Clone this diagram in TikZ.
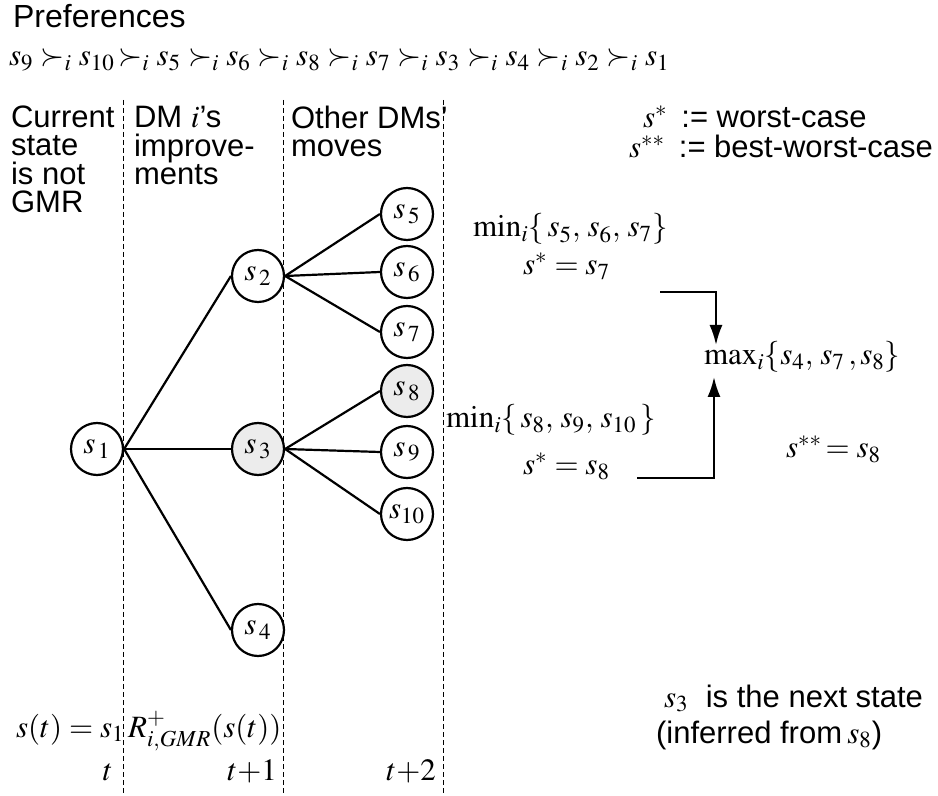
\documentclass[tikz,border=0pt]{standalone}
\usepackage{amsmath}
\usepackage{mathptmx}
\usepackage[no-math]{fontspec}
\setmainfont{Liberation Sans}
\usetikzlibrary{arrows.meta}
\tikzset{
  st/.style={circle, draw, minimum size=26pt, inner sep=0pt, font=\fontsize{15.5}{14.3}\selectfont},
  hit/.style={st, fill=gray!15},
  lbl/.style={anchor=base west, inner sep=0pt, align=left, font=\fontsize{15.5}{14.3}\selectfont},
  sep/.style={dash pattern=on 2.5pt off 1.5pt, line width=0.5pt},
  pick/.style={-{Latex[length=10pt,width=6.5pt]}}
}
\begin{document}
\begin{tikzpicture}[line width=1.1pt, scale=0.5, x=1pt, y=-1pt]
 \useasboundingbox (0,0) rectangle (938,796);

 % time steps
 \foreach \x in {123,283,443}
   \draw[sep] (\x,100) -- (\x,796);

 \node[lbl, font=\fontsize{16}{16}\selectfont] (pref) at (12,28) {Preferences};
 \node[lbl] (order) at (8,66) {$s_9 \succ_i s_{10}\!\succ_i s_5 \succ_i s_6 \succ_i s_8 \succ_i s_7 \succ_i s_3 \succ_i s_4 \succ_i s_2 \succ_i s_1$};

 % column heads (anchored at last line)
 \node[lbl] (now) at (10,213) {Current\\state\\is not\\GMR};
 \node[lbl] (dm) at (133,185) {DM $i$'s\\improve-\\ments};
 \node[lbl] (oth) at (290,157) {Other DMs'\\moves};

 % states
 \node[st] (s1) at (97,449) {$s_{\,1}$};
 \node[st] (s2) at (258,276) {$s_{\,2}$};
 \node[hit] (s3) at (258,449) {$s_{\,3}$};
 \node[st] (s4) at (258,630) {$s_{\,4}$};
 \node[st] (s5) at (407,214) {$s_{\,5}$};
 \node[st] (s6) at (407,272) {$s_{\,6}$};
 \node[st] (s7) at (407,332) {$s_{\,7}$};
 \node[hit] (s8) at (407,391) {$s_{\,8}$};
 \node[st] (s9) at (407,452) {$s_{\,9}$};
 \node[st] (s10) at (407,514) {$s_{10}$};

 \foreach \a/\b in {s1/s2,s1/s3,s1/s4,s2/s5,s2/s6,s2/s7,s3/s8,s3/s9,s3/s10}
   \draw (\a.east) -- (\b.west);

 % worst cases
 \node[lbl] (def1) at (642,128) {$s^*$\, := worst-case};
 \node[lbl] (def2) at (628,158) {$s^{**}$\, := best-worst-case};
 \node[lbl] (min1) at (472,237) {$\min_i\{\,s_5,\,s_6,\,s_7\}$};
 \node[lbl] (w7) at (522,275) {$s^* = s_7$};
 \node[lbl] (maxn) at (703,365) {$\max_i\{s_4,\,s_7\,,s_8\}$};
 \node[lbl] (min2) at (445,428) {$\min_i\{\,s_8,\,s_9,\,s_{10}\,\}$};
 \node[lbl] (w8) at (522,475) {$s^* = s_8$};
 \node[lbl] (bw) at (785,458) {$s^{**}\!= s_8$};

 \coordinate (a7) at (660,292);
 \coordinate (t7) at (716,345);
 \coordinate (a8) at (637,478);
 \coordinate (t8) at (714,377);
 \draw[pick] (a7) -| (t7);
 \draw[pick] (a8) -| (t8);

 \node[lbl] (cur) at (15,737) {$s(t) = s_1$};
 \node[lbl] (reach) at (127,737) {$R^+_{i,GMR}(s(t))$};
 \node[lbl, anchor=base east] (t0) at (114,780) {$t$};
 \node[lbl, anchor=base east] (t1) at (278,780) {$t{+}1$};
 \node[lbl, anchor=base east] (t2) at (437,780) {$t{+}2$};

 \node[lbl] (nxt) at (663,707) {$s_3$\ \ is the next state};
 \node[lbl] (inf) at (655,743) {(inferred from\,$s_8$)};
\end{tikzpicture}
\end{document}
